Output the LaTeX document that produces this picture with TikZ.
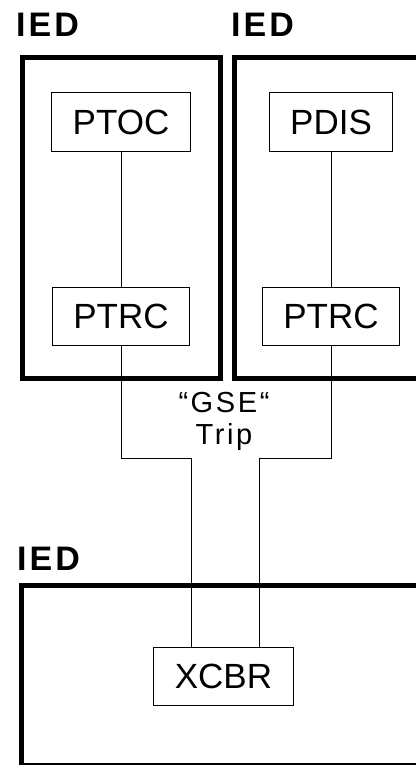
\documentclass[tikz,border=0pt]{standalone}
\usepackage{fontspec}
\setmainfont{Liberation Sans}
\newfontfamily\widefont[LetterSpace=9]{Liberation Sans}
\usetikzlibrary{positioning}
\tikzset{
      iedbox/.style={
        draw,
        line width=5pt,
        anchor=north west,
        inner sep=0pt
      },
      iedlabel/.style={
        anchor=base west,
        inner sep=0pt,
        font=\fontsize{34}{40}\widefont\bfseries
      },
      lnbox/.style={
        draw,
        line width=1pt,
        minimum height=58pt,
        inner xsep=21pt,
        font=\fontsize{35}{42}\selectfont
      },
      wire/.style={line width=1pt}
    }
\begin{document}
\begin{tikzpicture}[x=1pt,y=-1pt]
    \useasboundingbox (0,0) rectangle (415,765);
    \node[iedbox, minimum width=198pt, minimum height=320.5pt] (iedA) at (19.5,55) {};
    \node[iedbox, minimum width=210pt, minimum height=320.5pt] (iedB) at (231.5,55) {};
    \node[iedbox, minimum width=430pt, minimum height=180pt] (iedC) at (19,582.5) {};
    \node[iedlabel] (labA) at (16,37) {IED};
    \node[iedlabel] (labB) at (231,37) {IED};
    \node[iedlabel] (labC) at (17,570) {IED};
    \node[lnbox] (ptoc) at (121,122) {PTOC};
    \node[lnbox] (pdis) at (331,122) {PDIS};
    \node[lnbox] (ptrcA) at (121,316.5) {PTRC};
    \node[lnbox] (ptrcB) at (331,316.5) {PTRC};
    \node[lnbox] (xcbr) at (223.5,676.5) {XCBR};
    \node[font=\fontsize{29}{32}\widefont, align=center] (trip) at (224,421) {“GSE“\\Trip};
    \coordinate (bendA) at (191.7,458);
    \coordinate (bendB) at (259.3,458);
    \draw[wire] (ptoc) -- (ptrcA);
    \draw[wire] (pdis) -- (ptrcB);
    \draw[wire] (ptrcA.south) |- (bendA) -- (bendA |- xcbr.north);
    \draw[wire] (ptrcB.south) |- (bendB) -- (bendB |- xcbr.north);
    \end{tikzpicture}
\end{document}
